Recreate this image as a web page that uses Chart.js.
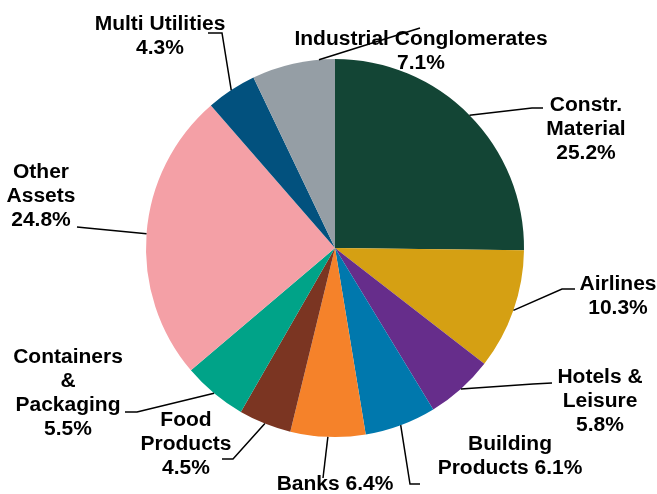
<!DOCTYPE html>
<html>
<head>
<meta charset="utf-8">
<script src="https://cdn.jsdelivr.net/npm/chart.js@4"></script>
<style>
  html, body { margin: 0; padding: 0; background: #fff; }
  canvas { display: block; }
</style>
</head>
<body>
<canvas id="pieChart" width="657" height="494"></canvas>
<script>
// sectors, clockwise from 12 o'clock
const sectors = ['Constr. Material', 'Airlines', 'Hotels & Leisure', 'Building Products', 'Banks',
    'Food Products', 'Containers & Packaging', 'Other Assets', 'Multi Utilities', 'Industrial Conglomerates'];
const weights = [25.2, 10.3, 5.8, 6.1, 6.4, 4.5, 5.5, 24.8, 4.3, 7.1];
const sliceColors = ['#134535', '#d5a013', '#662d8b', '#0078ad', '#f5822a',
    '#7b3522', '#00a388', '#f4a0a6', '#02517e', '#959ea5'];

// label placement: text lines ({v} = value), first baseline, leader elbow points
const labelLayout = [
    { x: 586, y: 111, lines: ['Constr.', 'Material', '{v}'], leader: [[532, 108], [543, 108]] },
    { x: 618, y: 290, lines: ['Airlines', '{v}'], leader: [[562, 289], [575, 289]] },
    { x: 600, y: 383, lines: ['Hotels &', 'Leisure', '{v}'], leader: [[533, 384], [552, 383]] },
    { x: 510, y: 450, lines: ['Building', 'Products {v}'], leader: [[410, 484], [420, 484]] },
    { x: 335, y: 490, lines: ['Banks {v}'], leader: [[323, 478]] },
    { x: 186, y: 426, lines: ['Food', 'Products', '{v}'], leader: [[233, 459], [222, 459]] },
    { x: 68, y: 363, lines: ['Containers', '&', 'Packaging', '{v}'], leader: [[137, 412], [125, 412]] },
    { x: 41, y: 178, lines: ['Other', 'Assets', '{v}'], leader: [[87, 228], [77, 227]] },
    { x: 160, y: 30, lines: ['Multi Utilities', '{v}'], leader: [[222, 33], [208, 33]] },
    { x: 421, y: 45, lines: ['Industrial Conglomerates', '{v}'], leader: [[420, 28]], at: 0.81 }
];

const outsideLabels = {
    id: 'outsideLabels',
    afterDatasetsDraw(chart) {
        const ctx = chart.ctx;
        const arcs = chart.getDatasetMeta(0).data;
        ctx.save();
        ctx.strokeStyle = '#000';
        ctx.lineWidth = 1.5;
        labelLayout.forEach((lab, i) => {
            const arc = arcs[i];
            const p = arc.getProps(['x', 'y', 'startAngle', 'endAngle', 'outerRadius'], true);
            const a = p.startAngle + (lab.at || 0.5) * (p.endAngle - p.startAngle);
            ctx.beginPath();
            ctx.moveTo(p.x + Math.cos(a) * p.outerRadius, p.y + Math.sin(a) * p.outerRadius);
            lab.leader.forEach(pt => ctx.lineTo(pt[0], pt[1]));
            ctx.stroke();
        });
        ctx.fillStyle = '#000';
        ctx.font = 'bold 20px "Liberation Sans", Arial, sans-serif';
        ctx.textAlign = 'center';
        ctx.textBaseline = 'alphabetic';
        labelLayout.forEach((lab, i) => {
            lab.lines.forEach((ln, k) => {
                const txt = ln.replace('{v}', weights[i].toFixed(1) + '%');
                ctx.save();
                ctx.translate(lab.x, lab.y + k * 24);
                ctx.scale(1.05, 1);
                ctx.fillText(txt, 0, 0);
                ctx.restore();
            });
        });
        ctx.restore();
    }
};

new Chart(document.getElementById('pieChart'), {
    type: 'pie',
    data: {
        labels: sectors,
        datasets: [{
            data: weights,
            backgroundColor: sliceColors,
            borderWidth: 0
        }]
    },
    options: {
        responsive: false,
        animation: false,
        devicePixelRatio: 1,
        layout: { padding: { left: 146, right: 133, top: 59, bottom: 57 } },
        plugins: {
            legend: { display: false },
            tooltip: { enabled: false }
        }
    },
    plugins: [outsideLabels]
});
</script>
</body>
</html>
